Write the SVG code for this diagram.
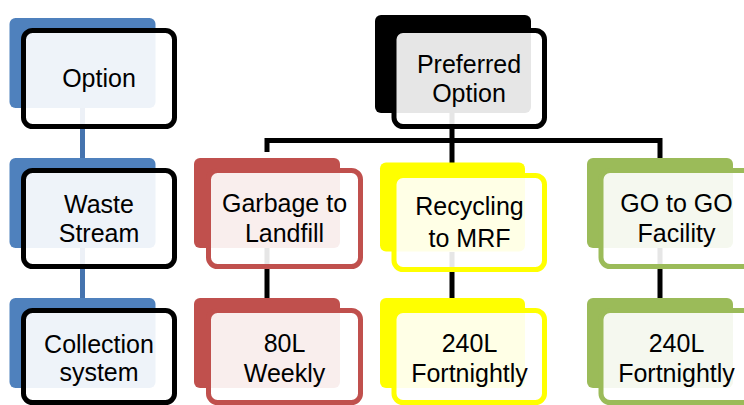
<svg xmlns="http://www.w3.org/2000/svg" width="744" height="405" viewBox="0 0 744 405">
<style>
.back{rx:6px;ry:6px}
.front{fill:#ffffff;fill-opacity:0.9;stroke-width:5;rx:9px;ry:9px}
.blue .back{fill:#4F81BD}
.blue .front{stroke:#000000}
.black .back{fill:#000000}
.black .front{stroke:#000000}
.red .back{fill:#C0504D}
.red .front{stroke:#C0504D}
.yellow .back{fill:#FFFF00}
.yellow .front{stroke:#FFFF00}
.green .back{fill:#9BBB59}
.green .front{stroke:#9BBB59}
text{font-family:"Liberation Sans",Arial,sans-serif;font-size:25px;fill:#000000;text-anchor:middle}
.conn{fill:none;stroke:#000000;stroke-width:5}
.conn-blue{fill:none;stroke:#4573AE;stroke-width:5}
</style>
<rect width="744" height="405" fill="#ffffff"/>
<g id="connectors">
<path class="conn-blue" d="M82.5,108 V158 M82.5,248 V298"/>
<path class="conn" d="M452,113 V163 M267,152 V140.5 H660 V158"/>
<path class="conn" d="M267,248 V298 M452,252 V298 M660,248 V298"/>
</g>
<g id="option" class="blue">
<rect class="back" x="9.5" y="18" width="146" height="90"/>
<rect class="front" x="23.5" y="30.5" width="151" height="96"/>
<text x="99" y="87">Option</text>
</g>
<g id="waste-stream" class="blue">
<rect class="back" x="9.5" y="158" width="146" height="90"/>
<rect class="front" x="23.5" y="170.5" width="151" height="96"/>
<text x="99" y="213">Waste</text>
<text x="99" y="242">Stream</text>
</g>
<g id="collection-system" class="blue">
<rect class="back" x="9.5" y="298" width="146" height="90"/>
<rect class="front" x="23.5" y="310.5" width="151" height="92"/>
<text x="99" y="353">Collection</text>
<text x="99" y="381">system</text>
</g>
<g id="preferred-option" class="black">
<rect class="back" x="375" y="15" width="156" height="98"/>
<rect class="front" x="394" y="30.5" width="150.5" height="96"/>
<text x="469" y="72.5">Preferred</text>
<text x="469" y="101.5">Option</text>
</g>
<g id="garbage-to-landfill" class="red">
<rect class="back" x="194" y="158" width="146" height="90"/>
<rect class="front" x="208.5" y="170.5" width="152" height="96"/>
<text x="284.5" y="211.5">Garbage to</text>
<text x="284.5" y="241.5">Landfill</text>
</g>
<g id="recycling-to-mrf" class="yellow">
<rect class="back" x="380" y="162.5" width="145" height="89"/>
<rect class="front" x="394" y="175.5" width="150.5" height="94"/>
<text x="469.5" y="215">Recycling</text>
<text x="469.5" y="246.5">to MRF</text>
</g>
<g id="go-to-go-facility" class="green">
<rect class="back" x="587" y="158" width="146" height="90"/>
<rect class="front" x="601" y="170.5" width="152" height="96"/>
<text x="676.5" y="211.5">GO to GO</text>
<text x="676.5" y="241.5">Facility</text>
</g>
<g id="80l-weekly" class="red">
<rect class="back" x="194" y="298" width="146" height="90"/>
<rect class="front" x="208.5" y="310.5" width="152" height="92"/>
<text x="284.5" y="351.5">80L</text>
<text x="284.5" y="381.5">Weekly</text>
</g>
<g id="240l-fortnightly-recycling" class="yellow">
<rect class="back" x="380" y="298" width="145" height="90"/>
<rect class="front" x="394" y="310.5" width="150.5" height="92"/>
<text x="469.5" y="351.5">240L</text>
<text x="469.5" y="381.5">Fortnightly</text>
</g>
<g id="240l-fortnightly-go" class="green">
<rect class="back" x="587" y="298" width="146" height="90"/>
<rect class="front" x="601" y="310.5" width="152" height="92"/>
<text x="676.5" y="351.5">240L</text>
<text x="676.5" y="381.5">Fortnightly</text>
</g>
</svg>
